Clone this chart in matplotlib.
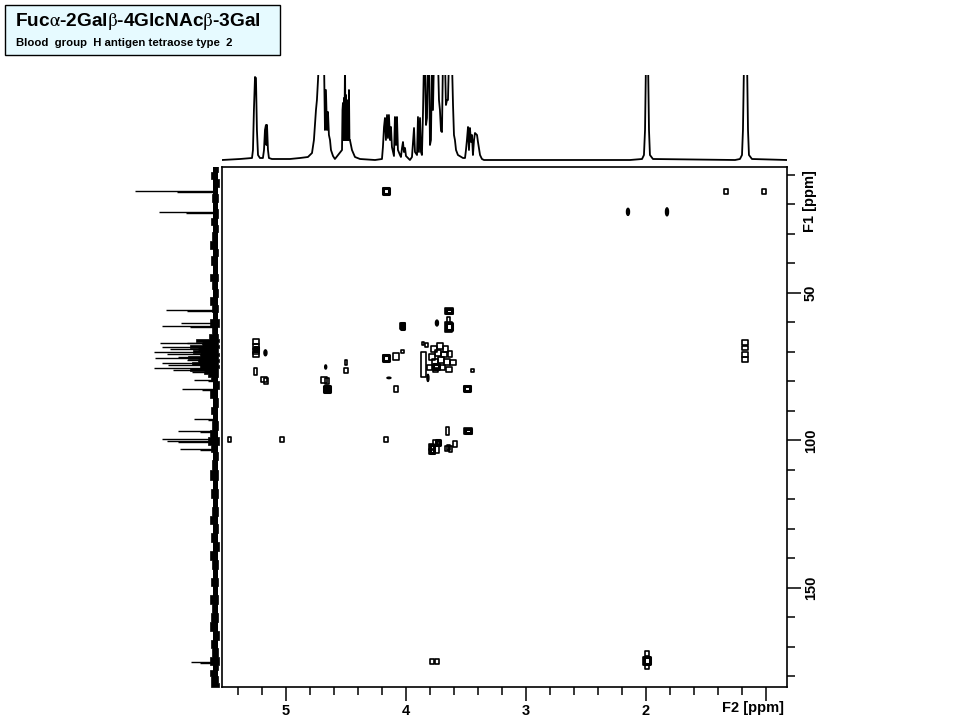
"""
HSQC-style 2D NMR map of Fuc-a-2Gal-b-4GlcNAc-b-3Gal with the 1D traces on the
top and left sides. All values read by eye off the reference picture.
"""
import matplotlib
matplotlib.use('Agg')
import matplotlib.pyplot as plt
from matplotlib.patches import Rectangle, Ellipse

W, H = 960, 720

# 1D proton trace (top): shift in ppm, height (100 = runs off the top)
TOP_PPM = [5.533, 5.383, 5.283, 5.275, 5.267, 5.258, 5.25, 5.242, 5.233, 5.217, 5.192, 5.183, 5.175,
           5.167, 5.163, 5.158, 5.15, 5.142, 5.117, 4.967, 4.883, 4.817, 4.783, 4.767, 4.75, 4.742,
           4.733, 4.725, 4.7, 4.692, 4.683, 4.675, 4.667, 4.658, 4.65, 4.642, 4.633, 4.625, 4.608,
           4.592, 4.533, 4.529, 4.525, 4.521, 4.517, 4.513, 4.508, 4.504, 4.5, 4.496, 4.492, 4.488,
           4.483, 4.479, 4.475, 4.471, 4.467, 4.45, 4.425, 4.383,
           4.258, 4.2, 4.192, 4.183, 4.175, 4.167, 4.158, 4.15, 4.142, 4.133, 4.125, 4.117, 4.1,
           4.092, 4.083, 4.075, 4.067, 4.05, 4.042, 4.033, 4.025, 4.017, 4.008, 4.0, 3.983, 3.967,
           3.95, 3.933, 3.925, 3.908, 3.9, 3.892, 3.883, 3.875, 3.867, 3.858, 3.85, 3.842, 3.833,
           3.825, 3.817, 3.808, 3.8, 3.792, 3.783, 3.775, 3.767, 3.742, 3.733, 3.725, 3.717, 3.708,
           3.7, 3.692, 3.675, 3.667, 3.658, 3.65, 3.642, 3.617, 3.608, 3.6, 3.592, 3.583, 3.567,
           3.525, 3.508, 3.5, 3.492, 3.483, 3.475, 3.467, 3.458, 3.45, 3.442, 3.433, 3.425, 3.408,
           3.4, 3.383, 3.367, 3.35, 2.133, 2.033, 2.017, 2.008, 2.0, 1.983, 1.975, 1.967, 1.942,
           1.258, 1.217, 1.2, 1.192, 1.183, 1.158, 1.15, 1.142, 1.117, 0.825]
TOP_INT = [0, 1, 2, 10, 50, 83, 82, 30, 5, 2, 2, 10, 30,
           35, 15, 35, 10, 2, 1, 1, 2, 3, 7, 20, 50, 60,
           80, 100, 100, 100, 100, 30, 70, 30, 48, 25, 20, 10, 4,
           1, 10, 50, 57, 20, 62, 20, 100, 20, 65, 20, 60, 20,
           55, 20, 70, 20, 20, 10, 3, 1,
           0, 1, 13, 33, 42, 20, 45, 22, 45, 20, 33, 13, 4,
           43, 15, 43, 10, 5, 3, 12, 18, 8, 12, 4, 2, 0,
           3, 32, 8, 5, 43, 8, 42, 8, 5, 48, 100, 100, 35,
           42, 100, 100, 15, 20, 100, 50, 100, 100, 100, 60, 50, 29,
           28, 100, 100, 55, 60, 60, 100, 100, 55, 25, 20, 10, 5,
           2, 2, 10, 20, 33, 10, 32, 18, 25, 5, 20, 27, 25,
           18, 5, 1, 0, 0, 1, 5, 30, 100, 100, 30, 5, 1,
           0, 1, 5, 30, 100, 100, 30, 5, 1, 0]

# 1D carbon trace (left): shift in ppm, height
LEFT_F1 = [15.4, 15.7, 22.5, 22.8, 55.8, 56.1, 60.2, 61.2, 61.5, 67.0, 66.9, 68.3, 69.0, 70.0, 70.7,
           72.0, 71.7, 72.7, 73.7, 74.4, 75.4, 76.1, 76.8, 79.5, 79.9, 82.5, 82.8, 92.7, 93.0,
           96.8, 97.2, 99.5, 100.2, 100.5, 102.9, 103.2, 175.0, 175.3]
LEFT_INT = [85, 43, 61, 34, 54, 33, 39, 58, 30, 60, 33, 58, 50, 66, 53,
            65, 42, 33, 58, 52, 66, 47, 28, 26, 12, 38, 18, 26, 12,
            42, 20, 58, 53, 42, 40, 20, 29, 20]

# noise band along the left trace: F1, outer and inner edge of the band
BAND_F1 = [3.5, 6, 8, 10, 13, 15, 18, 20, 23, 26, 28, 31, 34, 36, 39, 42, 45, 47, 50, 53, 55, 58,
           60, 63, 65, 66, 67, 68, 69, 70, 71, 72, 73, 74, 75, 76, 77, 78, 79, 81, 84, 87, 90, 92,
           95, 98, 100, 103, 105,
           108, 112, 115, 118, 121, 124, 127, 130, 133, 136, 139, 142, 145, 148, 151, 154, 157,
           160, 163, 166, 169, 172, 175, 177, 179, 181, 183.5]
BAND_OUT = [6, 8, 5, 9, 7, 5, 8, 6, 7, 9, 6, 8, 10, 6, 9, 7, 10, 8, 6, 10, 8, 7,
            10, 8, 11, 24, 18, 30, 22, 27, 20, 32, 22, 28, 20, 30, 16, 12, 9, 7, 10, 7, 9, 7,
            8, 10, 12, 9, 7,
            8, 10, 7, 9, 6, 8, 10, 6, 9, 7, 10, 8, 6, 9, 7, 10, 8,
            9, 10, 7, 9, 8, 10, 7, 10, 9, 9]
BAND_IN = [1, 3, 2, 3, 1, 3, 2, 3, 2, 3, 2, 3, 3, 2, 3, 3, 2, 3, 2, 3, 2, 3,
           1, 3, 2, 1, 2, 1, 2, 2, 1, 2, 1, 2, 1, 2, 2, 2, 3, 1, 3, 2, 3, 3,
           2, 3, 1, 3, 2,
           3, 2, 3, 2, 3, 2, 3, 2, 3, 1, 3, 2, 3, 2, 3, 2, 3,
           2, 3, 1, 3, 2, 1, 2, 3, 2, 1]

# 2D cross peaks: F2 ppm, F1 ppm, extent along each axis
OPEN_F2 = [4.167, 1.333, 1.017, 5.25, 5.25, 5.25, 5.25, 5.254, 5.183, 5.167, 4.683, 4.658, 4.5, 4.5,
           5.467, 5.033, 4.029, 4.167, 4.083, 4.033, 4.083, 3.642, 3.642, 3.642, 3.858, 3.825, 3.85,
           3.767, 3.717, 3.667, 3.783, 3.733, 3.683, 3.633, 3.758, 3.708, 3.658, 3.608, 3.8, 3.75,
           3.692, 3.642, 3.442, 3.488, 4.163, 3.654, 3.483, 3.788, 3.75, 3.742, 3.783, 3.625, 3.592,
           3.642, 3.658, 1.175, 1.175, 1.175, 1.175, 3.783, 3.742, 1.992, 1.992, 1.992]
OPEN_F1 = [15.4, 15.6, 15.6, 66.6, 68.0, 69.7, 71.0, 76.6, 79.5, 80.0, 79.5, 80.0, 76.3, 73.7,
           99.7, 99.7, 61.2, 72.0, 71.4, 69.7, 82.5, 56.1, 61.5, 59.2, 67.3, 67.6, 74.4,
           69.0, 68.0, 69.0, 71.7, 70.3, 71.0, 70.7, 73.4, 72.7, 73.4, 73.7, 75.4, 76.1,
           75.4, 76.1, 76.4, 82.4, 99.8, 96.8, 96.8, 102.2, 100.8, 102.9, 103.9, 102.9, 101.2,
           102.5, 102.9, 66.9, 68.6, 71.0, 72.7, 174.9, 174.9, 172.4, 174.7, 176.8]
OPEN_DX = [.05, .033, .033, .05, .05, .05, .05, .033, .042, .033, .042, .033, .033, .017,
           .025, .03, .042, .05, .042, .025, .033, .067, .058, .025, .017, .025, .042,
           .05, .05, .042, .042, .042, .042, .033, .05, .042, .042, .042, .042, .042,
           .042, .05, .025, .058, .033, .017, .067, .042, .042, .042, .042, .025, .033,
           .025, .033, .05, .05, .05, .05, .033, .033, .033, .058, .033]
OPEN_DY = [2.0, 2.0, 1.7, 1.7, 1.7, 1.7, 1.7, 2.4, 1.7, 2.0, 2.0, 2.0, 2.0, 1.7,
           1.7, 1.7, 2.0, 2.0, 2.4, 1.0, 2.0, 2.0, 3.4, 2.0, 1.0, 1.4, 8.5,
           2.0, 2.0, 2.0, 2.0, 2.0, 1.7, 1.7, 2.0, 2.0, 2.0, 1.7, 1.7, 1.4,
           1.7, 1.7, 1.0, 1.7, 1.7, 2.4, 2.0, 2.0, 2.0, 2.7, 1.7, 2.0, 2.0,
           1.7, 1.7, 1.7, 1.4, 1.7, 1.7, 1.7, 1.7, 1.7, 2.7, 1.7]

# peaks with a heavy outline, nearly closed up
THICK_F2 = [4.167, 4.029, 4.167, 3.488, 3.483, 5.25, 3.642, 3.642, 1.992, 4.658, 3.783, 3.733, 3.75]
THICK_F1 = [15.4, 61.2, 72.0, 82.4, 96.8, 69.0, 56.1, 61.5, 174.7, 82.5, 102.9, 100.8, 75.0]
THICK_DX = [.05, .03, .045, .05, .055, .04, .05, .05, .05, .045, .04, .04, .05]
THICK_DY = [2.0, 1.8, 2.0, 1.5, 1.6, 1.5, 1.6, 2.4, 2.4, 2.2, 2.4, 1.8, 1.8]

SOLID_F2 = [2.15, 1.825, 5.171, 4.669, 4.658, 4.142, 3.742, 3.817]
SOLID_F1 = [22.5, 22.5, 70.3, 75.1, 82.5, 78.8, 60.2, 78.8]
SOLID_DX = [.025, .025, .025, .017, .05, .033, .025, .017]
SOLID_DY = [2.4, 2.7, 2.0, 1.4, 2.4, .5, 2.0, 2.4]

X_MAJOR = [5, 4, 3, 2, 1]
X_LABELS = ['5', '4', '3', '2', '']
X_MINOR = [5.4, 5.2, 4.8, 4.6, 4.4, 4.2, 3.8, 3.6, 3.4, 3.2, 2.8, 2.6, 2.4, 2.2, 1.8, 1.6, 1.4, 1.2]
Y_MAJOR = [50, 100, 150]
Y_MINOR = [10, 20, 30, 40, 60, 70, 80, 90, 110, 120, 130, 140, 160, 170, 180]

plt.rcParams.update({
    'font.family': ['Liberation Sans', 'DejaVu Sans'],
    'mathtext.fontset': 'stix',
})


def px_axes(fig, x0, y0, x1, y1):
    # axes from picture pixels (y measured from the top)
    return fig.add_axes([x0 / W, 1 - y1 / H, (x1 - x0) / W, (y1 - y0) / H])


def add_box(ax, f2, f1, dx, dy, **kw):
    ax.add_patch(Rectangle((f2 - dx / 2, f1 - dy / 2), dx, dy, edgecolor='black',
                           joinstyle='round', **kw))


fig = plt.figure(figsize=(W / 100, H / 100), dpi=100)

# main 2D panel
ax = px_axes(fig, 222, 167, 787, 687)
ax.set_xlim(5.533, 0.825)
ax.set_ylim(183.6, 7.3)
for f2, f1, dx, dy in zip(OPEN_F2, OPEN_F1, OPEN_DX, OPEN_DY):
    add_box(ax, f2, f1, dx, dy, fill=False, lw=1.2)
for f2, f1, dx, dy in zip(THICK_F2, THICK_F1, THICK_DX, THICK_DY):
    add_box(ax, f2, f1, dx, dy, fill=False, lw=2.2)
for f2, f1, dx, dy in zip(SOLID_F2, SOLID_F1, SOLID_DX, SOLID_DY):
    ax.add_patch(Ellipse((f2, f1), dx, dy, facecolor='black', edgecolor='black', lw=1.0))

ax.set_xticks(X_MAJOR, X_LABELS)
ax.set_xticks(X_MINOR, minor=True)
ax.set_yticks(Y_MAJOR, [str(v) for v in Y_MAJOR])
ax.set_yticks(Y_MINOR, minor=True)
ax.yaxis.tick_right()
ax.tick_params(which='major', length=10, width=1.1, labelsize=10.5, pad=2)
ax.tick_params(which='minor', length=6, width=1.1)
for lab in ax.get_xticklabels() + ax.get_yticklabels():
    lab.set_fontweight('bold')
for lab in ax.get_yticklabels():
    lab.set_rotation(90)
    lab.set_va('center')
for sp in ax.spines.values():
    sp.set_linewidth(1.2)

fig.text(753 / W, 1 - 708 / H, 'F2 [ppm]', ha='center', va='center', fontsize=10.5, fontweight='bold')
fig.text(810 / W, 1 - 201 / H, 'F1 [ppm]', ha='center', va='center', rotation=90,
         fontsize=10.5, fontweight='bold')

# proton trace above the map
ax_top = px_axes(fig, 222, 75, 787, 162)
ax_top.plot(TOP_PPM, TOP_INT, color='black', lw=1.3)
ax_top.set_xlim(5.533, 0.825)
ax_top.set_ylim(-2, 85)
ax_top.axis('off')

# carbon trace left of the map, solid core under the jagged noise edges
ax_left = px_axes(fig, 130, 167, 220, 687)
ax_left.fill_betweenx(BAND_F1, BAND_OUT, BAND_IN, color='black', lw=0.5, step='mid')
ax_left.plot([BAND_IN[0] + 4, BAND_IN[0] + 4], [BAND_F1[0], BAND_F1[-1]], color='black', lw=3.6)
ax_left.hlines(LEFT_F1, 4, LEFT_INT, color='black', lw=1.0)
ax_left.set_xlim(90, 0)
ax_left.set_ylim(183.6, 7.3)
ax_left.axis('off')

# title box
fig.add_artist(Rectangle((5 / W, 1 - 55 / H), 275 / W, 50 / H, transform=fig.transFigure,
                         facecolor='#E6FAFF', edgecolor='black', lw=1.0))
fig.text(15 / W, 1 - 21 / H, r'Fuc$\mathrm{\alpha}$-2Gal$\mathrm{\beta}$-4GlcNAc$\mathrm{\beta}$-3Gal',
         ha='left', va='center', fontsize=13.8, fontweight='bold')
fig.text(16 / W, 1 - 43 / H, 'Blood  group  H antigen tetraose type  2', ha='left', va='center',
         fontsize=8.2, fontweight='bold')

fig.savefig('out.png', dpi=100)
plt.close(fig)
